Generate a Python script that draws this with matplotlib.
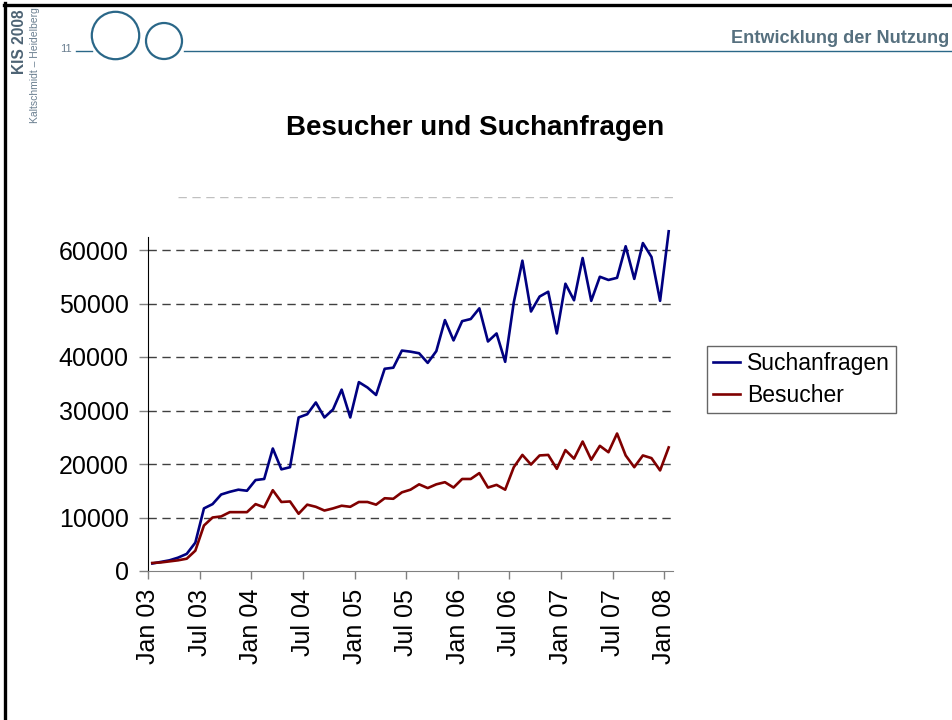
import numpy as np
import matplotlib
matplotlib.use("Agg")
import matplotlib.pyplot as plt
from matplotlib.lines import Line2D
from matplotlib.patches import Circle

plt.rcParams['font.family'] = ['Liberation Sans', 'DejaVu Sans']

# Monatswerte Jan 03 .. Jan 08
suchanfragen = [1400, 1700, 2000, 2500, 3200, 5300, 11700, 12500, 14300, 14800,
                15200, 15000, 17000, 17200, 22900, 19000, 19400, 28700, 29300, 31500,
                28700, 30200, 33900, 28700, 35300, 34300, 32900, 37800, 38000, 41200,
                41000, 40700, 38900, 41100, 46900, 43100, 46700, 47100, 49100, 42900,
                44400, 39100, 50200, 58000, 48500, 51300, 52200, 44400, 53700, 50600,
                58500, 50500, 55000, 54400, 54800, 60700, 54600, 61300, 58700, 50500,
                63500]
besucher = [1500, 1600, 1800, 2000, 2300, 3800, 8500, 10000, 10200, 11000,
            11000, 11000, 12500, 11900, 15100, 12900, 13000, 10700, 12400, 12000,
            11300, 11700, 12200, 12000, 12900, 12900, 12400, 13600, 13500, 14700,
            15200, 16200, 15500, 16200, 16600, 15600, 17200, 17200, 18300, 15600,
            16100, 15200, 19400, 21700, 19900, 21600, 21700, 19100, 22600, 21000,
            24200, 20800, 23400, 22200, 25700, 21600, 19400, 21600, 21100, 18800,
            23100]
tick_labels = ["Jan 03", "Jul 03", "Jan 04", "Jul 04", "Jan 05", "Jul 05",
               "Jan 06", "Jul 06", "Jan 07", "Jul 07", "Jan 08"]
y_ticks = [0, 10000, 20000, 30000, 40000, 50000, 60000]

W, H = 953, 720
fig = plt.figure(figsize=(W / 100, H / 100), dpi=100)

def fx(px):
    return px / W

def fy(py):
    return 1 - py / H

# Kopfzeile der Folie
fig.add_artist(Line2D([fx(4), fx(953)], [fy(4.5), fy(4.5)], color='black', lw=2.4))
fig.add_artist(Line2D([fx(5.5), fx(5.5)], [fy(3), fy(720)], color='black', lw=2.4))
teal = '#2a6788'
fig.add_artist(Line2D([fx(76), fx(92)], [fy(51), fy(51)], color=teal, lw=1.0))
fig.add_artist(Line2D([fx(184), fx(953)], [fy(51), fy(51)], color=teal, lw=1.0))
fig.add_artist(Circle((115.5, H - 35.5), 23.7, transform=None, fill=False,
                      edgecolor=teal, lw=1.6))
fig.add_artist(Circle((164, H - 41), 18, transform=None, fill=False,
                      edgecolor=teal, lw=1.6))
fig.text(fx(72), fy(49), "11", fontsize=8, color='#6a7f90', ha='right', va='center')
fig.text(fx(19.5), fy(9), "KIS 2008", fontsize=11.2, fontweight='bold', color='#4d6374',
         rotation=90, ha='center', va='top')
fig.text(fx(35), fy(7), "Kaltschmidt \u2013 Heidelberg", fontsize=7.5, color='#6a7f90',
         rotation=90, ha='center', va='top')
fig.text(fx(949), fy(38.5), "Entwicklung der Nutzung", fontsize=13.1, fontweight='bold',
         color='#56707f', ha='right', va='center')

fig.text(fx(475), fy(128), "Besucher und Suchanfragen", fontsize=20,
         fontweight='bold', ha='center', va='center')

# Diagramm
ax = fig.add_axes([fx(148), fy(571), fx(673) - fx(148), fy(196.5) - fy(571)])
x = np.arange(len(suchanfragen)) + 0.5
ax.plot(x, suchanfragen, color='#000080', lw=1.9, label='Suchanfragen')
ax.plot(x, besucher, color='#800000', lw=1.9, label='Besucher')

ax.set_xlim(0, len(suchanfragen))
ax.set_ylim(0, 70000)
ax.set_xticks(np.arange(0, len(suchanfragen), 6))
ax.set_xticklabels(tick_labels, rotation=90, fontsize=18)
ax.set_yticks(y_ticks)
ax.set_yticklabels([str(v) for v in y_ticks], fontsize=18)

for v in y_ticks[1:]:
    ax.axhline(v, color='#404040', lw=1.0, ls=(0, (6, 4)), zorder=0)
ax.axhline(70000, xmin=30 / 525, color='#c0c0c0', lw=1.0, ls=(0, (6, 4)), zorder=0)

for s in ['top', 'right']:
    ax.spines[s].set_visible(False)
ax.spines['left'].set_color('black')
ax.spines['left'].set_bounds(0, 62500)
ax.spines['bottom'].set_color('#808080')
ax.tick_params(axis='y', length=6.5, width=1.0, color='#808080', pad=7.5)
ax.tick_params(axis='x', length=6, width=1.0, color='#808080', pad=7)

leg = fig.legend(loc='upper left', bbox_to_anchor=(fx(707), fy(346)), fontsize=16.5,
                 frameon=True, fancybox=False, handlelength=1.2, handletextpad=0.3,
                 borderpad=0.25, labelspacing=0.4, borderaxespad=0)
leg.get_frame().set_edgecolor('#404040')
leg.get_frame().set_linewidth(1.0)

fig.savefig("out.png", dpi=100)
